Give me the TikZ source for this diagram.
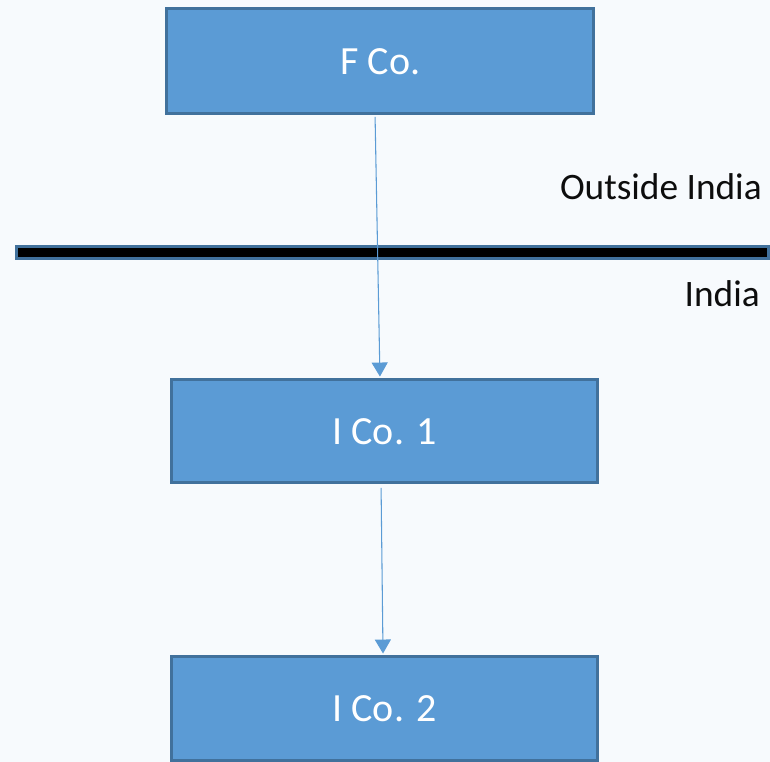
\documentclass[tikz,border=0pt]{standalone}
\usepackage{fontspec}
\setmainfont{Carlito}
\usetikzlibrary{arrows.meta}
\definecolor{bgc}{HTML}{F7FAFD}
\definecolor{boxfill}{HTML}{5B9BD5}
\definecolor{boxline}{HTML}{41719C}
\tikzset{
  px/.style={x=0.75pt,y=-0.75pt},
  orgbox/.style={draw=boxline, fill=boxfill, line width=2.25pt, inner sep=0pt,
    text=white, font=\fontsize{30}{36}\selectfont},
  side/.style={inner sep=0pt, text=black!95, font=\fontsize{28}{34}\selectfont},
  arr/.style={draw=boxfill, line width=0.8pt, -{Triangle[width=12pt,length=10.5pt]}}
}
\begin{document}
\begin{tikzpicture}[px]
\fill[bgc] (0,0) rectangle (770,762);
\useasboundingbox (0,0) rectangle (770,762);
\node[orgbox, minimum width=320.6pt, minimum height=79.1pt] (fco) at (380.25,61.25) {F Co.};
\node[orgbox, minimum width=319.5pt, minimum height=77.6pt] (ico1) at (384.5,431.25) {I Co. 1};
\node[orgbox, minimum width=319.5pt, minimum height=78pt] (ico2) at (384.5,708.5) {I Co. 2};
\node[draw=boxline, fill=black, line width=2.25pt, inner sep=0pt,
  minimum width=564pt, minimum height=9.5pt] (bar) at (392.5,252.5) {};
\node[side, anchor=base east] (out) at (762,200) {Outside India};
\node[side, anchor=base east] (ind) at (760,307) {India};
\draw[arr, shorten <=1pt, shorten >=1.1pt] ([xshift=-3.9pt]fco.south) -- ([xshift=-3.4pt]ico1.north);
\draw[arr, shorten <=2.5pt, shorten >=1.1pt] ([xshift=-2.6pt]ico1.south) -- ([xshift=-1.1pt]ico2.north);
\end{tikzpicture}
\end{document}
